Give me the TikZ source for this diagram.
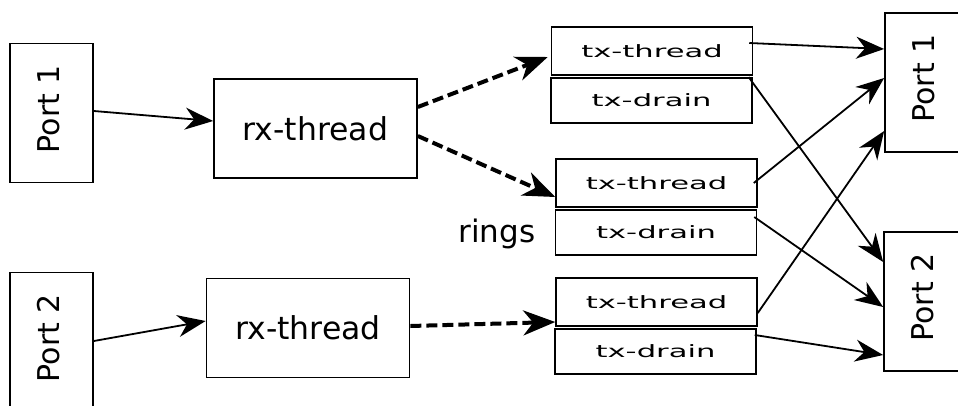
\documentclass[tikz,border=0pt]{standalone}
\usepackage{fontspec}
\setmainfont{DejaVu Sans}
\newfontfamily\txfont[FakeStretch=1.8]{DejaVu Sans}
\usepackage{graphicx}
\usetikzlibrary{arrows.meta}

\newcommand{\portlabel}[1]{\rotatebox{90}{\raisebox{3pt}[\height][\depth]{\hspace{8pt}Port #1}}}

\begin{document}
\begin{tikzpicture} [x=1pt, y=-1pt,
  portbox/.style={draw, line width=1.7pt, inner sep=0pt, minimum width=83pt, minimum height=139pt, font=\fontsize{30}{36}\selectfont},
  rxbox/.style={draw, line width=1.7pt, inner sep=0pt, minimum width=203pt, minimum height=99pt, font=\fontsize{31.5}{37}\selectfont},
  threadbox/.style={draw, line width=1.5pt, inner sep=0pt, minimum width=201pt, minimum height=48pt, font=\txfont\fontsize{17}{20}\selectfont},
  drainbox/.style={threadbox, minimum height=45pt},
  portarrow/.style={line width=1.8pt, -{Stealth[length=28pt, width=22pt, inset=9pt]}},
  ringarrow/.style={line width=4pt, dash pattern=on 11pt off 5pt, -{Stealth[length=32pt, width=25pt, inset=10pt]}}]
\useasboundingbox (0,0) rectangle (958,405);

% input ports and rx threads
\node[portbox] (portA) at (51.5,113) {\portlabel{1}};
\node[portbox] (portB) at (51.5,342) {\portlabel{2}};
\node[rxbox] (rxA) at (315.5,128.5) {rx-thread};
\node[rxbox] (rxB) at (308,328) {rx-thread};

% rings
\foreach \n/\x/\y in {A/652/51, B/656.5/183, C/656.5/302} \node[threadbox] (thr\n) at (\x,\y) {tx-thread};
\foreach \n/\x/\y in {A/651.5/100.5, B/656/232.5, C/655.5/351.5} \node[drainbox] (drn\n) at (\x,\y) {tx-drain};
\node[anchor=base west, font=\fontsize{31}{37}\selectfont] (rings) at (455,242) {rings};

% output ports
\node[portbox] (outA) at (926.5,82.5) {\portlabel{1}};
\node[portbox] (outB) at (925.5,301.5) {\portlabel{2}};

\draw[portarrow] ([yshift=2pt]portA.east) -- ([yshift=7.5pt]rxA.west);
\draw[portarrow] ([yshift=1pt]portB.east) -- ([yshift=7pt]rxB.west);

\draw[ringarrow] ([yshift=21.5pt]rxA.east) -- ([xshift=-3pt, yshift=-6pt]thrA.west);
\draw[ringarrow] ([yshift=-7.5pt]rxA.east) -- ([yshift=-14pt]thrB.west);
\draw[ringarrow] ([yshift=2pt]rxB.east) -- ([yshift=-20pt]thrC.west);

\draw[portarrow] ([xshift=-4pt, yshift=8pt]thrA.east) -- ([yshift=33.5pt]outA.west);
\draw[portarrow] ([xshift=-4pt]drnA.north east) -- ([yshift=39.5pt]outB.west);
\draw[portarrow] ([xshift=-4pt]thrB.east) -- ([yshift=4.5pt]outA.west);
\draw[portarrow] ([xshift=-3pt, yshift=15.5pt]drnB.east) -- ([yshift=-5.5pt]outB.west);
\draw[portarrow] ([yshift=-11pt]thrC.east) -- ([yshift=-48.5pt]outA.west);
\draw[portarrow] ([xshift=-2pt, yshift=16.5pt]drnC.east) -- ([yshift=-53.5pt]outB.west);

\end{tikzpicture}
\end{document}
